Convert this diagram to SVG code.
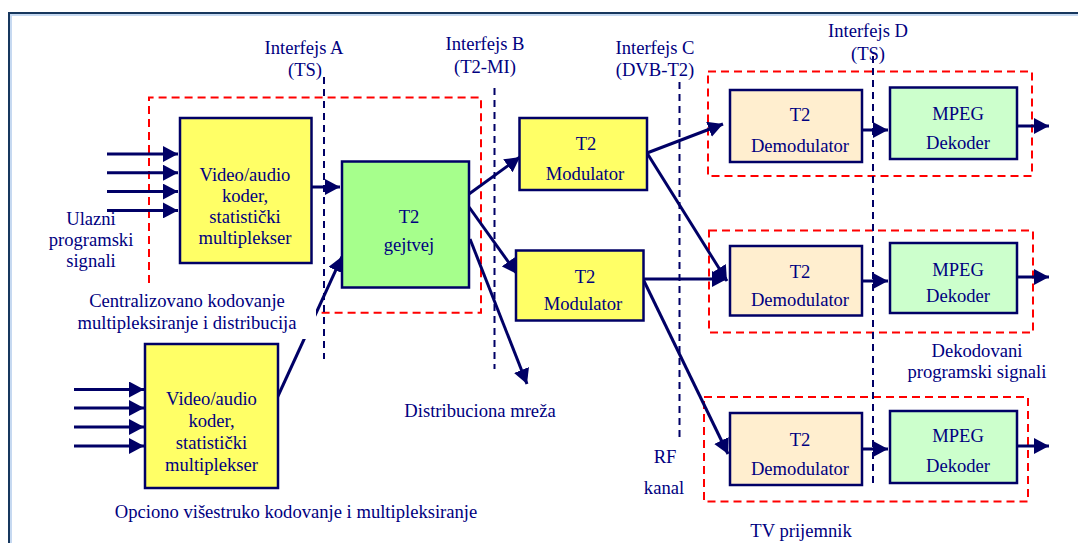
<svg xmlns="http://www.w3.org/2000/svg" width="1078" height="543" viewBox="0 0 1078 543" font-family="'Liberation Serif', 'Times New Roman', 'DejaVu Serif', serif">
<defs>
<marker id="ah" markerUnits="userSpaceOnUse" markerWidth="16" markerHeight="16" refX="15" refY="8" orient="auto" viewBox="0 0 16 16">
<path d="M0,0 L15,8 L0,16 z" fill="#000066"/>
</marker>
<style>
.t{font-family:'Liberation Serif','Times New Roman','DejaVu Serif',serif;font-size:18.6px;fill:#000080;text-anchor:middle}
.box{stroke:#000066;stroke-width:2.5}
.yel{fill:#FFFF66}
.gw{fill:#A6FF8C}
.dem{fill:#FFEECF}
.mp{fill:#CCFFCC}
.red{fill:none;stroke:#FF0000;stroke-width:2;stroke-dasharray:8,5}
.ifc{fill:none;stroke:#000066;stroke-width:2;stroke-dasharray:7,5}
.c{fill:none;stroke:#000066;stroke-width:3;marker-end:url(#ah)}
</style>
</defs>
<rect width="1078" height="543" fill="#FFFFFF"/>
<g id="frame">
<line x1="9" y1="15" x2="1078" y2="15" stroke="#C6D9F1" stroke-width="2"/>
<line x1="11" y1="13" x2="11" y2="543" stroke="#C6D9F1" stroke-width="2"/>
<line x1="8" y1="13" x2="1078" y2="13" stroke="#17375E" stroke-width="2"/>
<line x1="9" y1="12" x2="9" y2="543" stroke="#17375E" stroke-width="2"/>
</g>
<g id="regions">
<path class="red" d="M149,283 V97.6 H481 V312.8 H316"/>
<rect class="red" x="708" y="71.5" width="324" height="104.5"/>
<rect class="red" x="709" y="230.5" width="324" height="102"/>
<rect class="red" x="704" y="397" width="324" height="104.5"/>
</g>
<g id="interfaces">
<line class="ifc" x1="324" y1="77" x2="324" y2="359"/>
<line class="ifc" x1="494.5" y1="88" x2="494.5" y2="369"/>
<line class="ifc" x1="679.5" y1="82" x2="679.5" y2="437"/>
<line class="ifc" x1="873" y1="56" x2="873" y2="484"/>
</g>
<g id="connectors">
<line class="c" x1="107" y1="154" x2="178" y2="154"/>
<line class="c" x1="107" y1="172.7" x2="178" y2="172.7"/>
<line class="c" x1="107" y1="191.6" x2="178" y2="191.6"/>
<line class="c" x1="107" y1="210.4" x2="178" y2="210.4"/>
<line class="c" x1="74" y1="389.5" x2="144" y2="389.5"/>
<line class="c" x1="74" y1="408" x2="144" y2="408"/>
<line class="c" x1="74" y1="427" x2="144" y2="427"/>
<line class="c" x1="74" y1="446" x2="144" y2="446"/>
<line class="c" x1="306" y1="187" x2="340" y2="187"/>
<line class="c" x1="268.6" y1="416.5" x2="342" y2="256.6"/>
<line class="c" x1="469" y1="194" x2="520" y2="157"/>
<line class="c" x1="469" y1="207" x2="517" y2="274"/>
<line class="c" x1="470" y1="239" x2="527" y2="384"/>
<line class="c" x1="647" y1="153" x2="723" y2="124"/>
<line class="c" x1="647" y1="153" x2="727" y2="281"/>
<line class="c" x1="643" y1="279" x2="727" y2="279"/>
<line class="c" x1="643" y1="279" x2="728" y2="454"/>
<line class="c" x1="855" y1="130" x2="888" y2="130"/>
<line class="c" x1="855" y1="281" x2="888" y2="281"/>
<line class="c" x1="855" y1="449" x2="888" y2="449"/>
<line class="c" x1="1017" y1="126" x2="1049" y2="126"/>
<line class="c" x1="1017" y1="277" x2="1049" y2="277"/>
<line class="c" x1="1017" y1="446" x2="1049" y2="446"/>
</g>
<g id="label-central">
<rect x="75" y="284" width="241" height="55" fill="#FFFFFF"/>
<text class="t" x="187" y="307">Centralizovano kodovanje</text>
<text class="t" x="187" y="329">multipleksiranje i distribucija</text>
</g>
<g id="coder1">
<rect class="box yel" x="180" y="118" width="131.5" height="145"/>
<text class="t" x="245" y="181">Video/audio</text>
<text class="t" x="245" y="202">koder,</text>
<text class="t" x="245" y="223">statistički</text>
<text class="t" x="245" y="244">multiplekser</text>
</g>
<g id="coder2">
<rect class="box yel" x="145" y="344" width="133" height="144"/>
<text class="t" x="211.5" y="405">Video/audio</text>
<text class="t" x="211.5" y="427">koder,</text>
<text class="t" x="211.5" y="449">statistički</text>
<text class="t" x="211.5" y="471">multiplekser</text>
</g>
<g id="gateway">
<rect class="box gw" x="342" y="161.5" width="127" height="126"/>
<text class="t" x="409" y="223">T2</text>
<text class="t" x="409" y="251">gejtvej</text>
</g>
<g id="mod1">
<rect class="box yel" x="519.5" y="118" width="127.5" height="72"/>
<text class="t" x="586" y="150">T2</text>
<text class="t" x="585" y="180">Modulator</text>
</g>
<g id="mod2">
<rect class="box yel" x="516" y="250.5" width="127.5" height="70"/>
<text class="t" x="585" y="283">T2</text>
<text class="t" x="583" y="310">Modulator</text>
</g>
<g id="demod1">
<rect class="box dem" x="730" y="90" width="132" height="72"/>
<text class="t" x="800" y="121">T2</text>
<text class="t" x="800" y="152">Demodulator</text>
</g>
<g id="mpeg1">
<rect class="box mp" x="890" y="87.5" width="127" height="71.5"/>
<text class="t" x="958" y="120">MPEG</text>
<text class="t" x="958" y="149">Dekoder</text>
</g>
<g id="demod2">
<rect class="box dem" x="730" y="246" width="132" height="69.5"/>
<text class="t" x="800" y="278">T2</text>
<text class="t" x="800" y="306">Demodulator</text>
</g>
<g id="mpeg2">
<rect class="box mp" x="890" y="243" width="127" height="70"/>
<text class="t" x="958" y="276">MPEG</text>
<text class="t" x="958" y="302">Dekoder</text>
</g>
<g id="demod3">
<rect class="box dem" x="730" y="413" width="132" height="72"/>
<text class="t" x="800" y="446">T2</text>
<text class="t" x="800" y="475">Demodulator</text>
</g>
<g id="mpeg3">
<rect class="box mp" x="890" y="411" width="127" height="72"/>
<text class="t" x="958" y="442">MPEG</text>
<text class="t" x="958" y="472">Dekoder</text>
</g>
<g id="labels">
<text class="t" x="304" y="54">Interfejs A</text>
<text class="t" x="305" y="76">(TS)</text>
<text class="t" x="485" y="50">Interfejs B</text>
<text class="t" x="485" y="73">(T2-MI)</text>
<text class="t" x="655" y="54">Interfejs C</text>
<text class="t" x="655" y="76">(DVB-T2)</text>
<text class="t" x="868" y="37">Interfejs D</text>
<text class="t" x="868" y="60">(TS)</text>
<text class="t" x="91" y="225">Ulazni</text>
<text class="t" x="91" y="246">programski</text>
<text class="t" x="91" y="267">signali</text>
<text class="t" x="296" y="518">Opciono višestruko kodovanje i multipleksiranje</text>
<text class="t" x="480" y="417">Distribuciona mreža</text>
<text class="t" x="977" y="357">Dekodovani</text>
<text class="t" x="977" y="378">programski signali</text>
<text class="t" x="665" y="463">RF</text>
<text class="t" x="664" y="494">kanal</text>
<text class="t" x="801" y="537">TV prijemnik</text>
</g>
</svg>
